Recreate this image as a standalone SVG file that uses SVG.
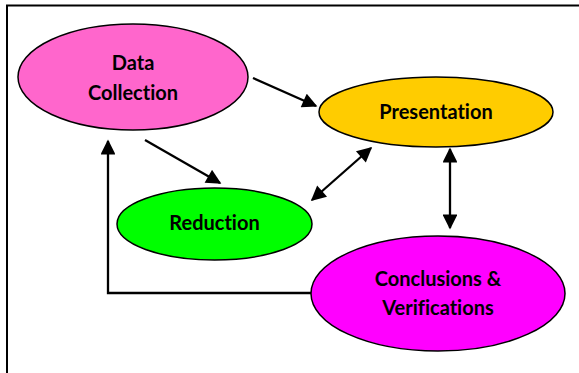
<svg xmlns="http://www.w3.org/2000/svg" width="579" height="373" viewBox="0 0 579 373">
<style>
.n{stroke:#000;stroke-width:1.5}
.t{font-family:Lato,"Liberation Sans",sans-serif;font-weight:bold;font-size:20px;fill:#000;text-anchor:middle;font-variant-ligatures:none}
.c{stroke:#000;stroke-width:2.3;fill:none}
</style>
<defs>
<marker id="ah" viewBox="0 0 10 10" refX="9" refY="5" markerWidth="7.5" markerHeight="6.5" orient="auto-start-reverse" markerUnits="strokeWidth">
<path d="M0,0 L10,5 L0,10 z" fill="#000"/>
</marker>
</defs>
<rect x="0" y="0" width="579" height="373" fill="#fff"/>
<path d="M7,373 V5.5 H579" stroke="#000" stroke-width="2" fill="none"/>
<g id="data-collection">
<ellipse class="n" cx="133" cy="77" rx="115" ry="53" fill="#ff66cc"/>
<text class="t" x="133" y="70">Data</text>
<text class="t" x="133" y="100">Collection</text>
</g>
<g id="presentation">
<ellipse class="n" cx="436" cy="112" rx="117" ry="35" fill="#ffcc00"/>
<text class="t" x="436" y="119">Presentation</text>
</g>
<g id="reduction">
<ellipse class="n" cx="214.5" cy="224" rx="97.5" ry="36" fill="#00ff00"/>
<text class="t" x="214.5" y="230">Reduction</text>
</g>
<g id="conclusions">
<ellipse class="n" cx="438" cy="293.5" rx="127" ry="57.5" fill="#ff00ff"/>
<text class="t" x="438" y="286">Conclusions &amp;</text>
<text class="t" x="438" y="315">Verifications</text>
</g>
<g id="connectors">
<line class="c" x1="253" y1="78" x2="316" y2="106" marker-end="url(#ah)"/>
<line class="c" x1="145" y1="140" x2="220" y2="183" marker-end="url(#ah)"/>
<line class="c" x1="312" y1="200" x2="371" y2="148" marker-start="url(#ah)" marker-end="url(#ah)"/>
<line class="c" x1="450" y1="149" x2="450" y2="228" marker-start="url(#ah)" marker-end="url(#ah)"/>
<polyline class="c" points="311,293 108,293 108,141" marker-end="url(#ah)"/>
</g>
</svg>
